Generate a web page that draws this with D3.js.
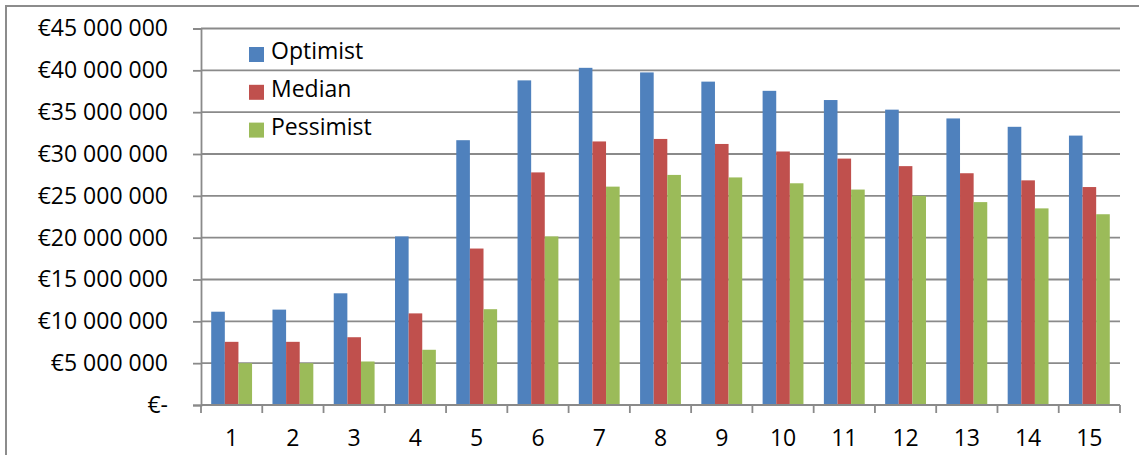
<!DOCTYPE html>
<html>
<head>
<meta charset="utf-8">
<script src="https://cdn.jsdelivr.net/npm/d3@7/dist/d3.min.js"></script>
<style>
  html, body { margin: 0; padding: 0; background: #fff; }
  svg { display: block; font-family: "Open Sans", "DejaVu Sans", sans-serif; }
</style>
</head>
<body>
<svg id="chart" width="1139" height="455"></svg>
<script>
// Yearly revenue scenarios (EUR)
const years = ["1","2","3","4","5","6","7","8","9","10","11","12","13","14","15"];
const seriesNames = ["Optimist", "Median", "Pessimist"];
const optimist  = [11150000, 11400000, 13350000, 20150000, 31650000, 38800000, 40300000, 39750000, 38650000, 37550000, 36450000, 35300000, 34250000, 33250000, 32200000];
const median    = [7550000, 7550000, 8100000, 10950000, 18700000, 27800000, 31500000, 31800000, 31200000, 30300000, 29450000, 28550000, 27700000, 26850000, 26050000];
const pessimist = [5000000, 5000000, 5200000, 6600000, 11450000, 20150000, 26100000, 27500000, 27200000, 26500000, 25750000, 25000000, 24250000, 23500000, 22800000];
const yTicks = [0, 5000000, 10000000, 15000000, 20000000, 25000000, 30000000, 35000000, 40000000, 45000000];
const colors = ["#4f81bd", "#c0504d", "#9bbb59"];

const seriesValues = [optimist, median, pessimist];
const svg = d3.select("#chart");
const fontSize = 23;

const plot = { left: 201, right: 1120, top: 28.5, bottom: 405 };

const x = d3.scaleBand().domain(years).range([plot.left, plot.right]).padding(0);
const bw = x.bandwidth();
const gap = bw * 0.75 / 4.5;
const xs = d3.scaleBand().domain(seriesNames).range([gap, bw - gap]).padding(0);
const y = d3.scaleLinear().domain([0, 45000000]).range([plot.bottom, plot.top]);

// outer frame (left and top edges)
svg.append("path")
  .attr("d", "M6,455 V6 H1139")
  .attr("fill", "none")
  .attr("stroke", "#8c8c8c")
  .attr("stroke-width", 2);

// horizontal gridlines
svg.append("g")
  .selectAll("line")
  .data(yTicks.slice(1))
  .join("line")
  .attr("x1", plot.left).attr("x2", plot.right)
  .attr("y1", d => y(d)).attr("y2", d => y(d))
  .attr("stroke", "#8a8a8a")
  .attr("stroke-width", 1.8);

// bars
const fmtEuro = v => v === 0 ? "€-" : "€" + d3.format(",")(v).replace(/,/g, " ");

seriesNames.forEach((name, si) => {
  svg.append("g")
    .selectAll("rect")
    .data(seriesValues[si].map((v, i) => ({ year: years[i], v })))
    .join("rect")
    .attr("x", d => x(d.year) + xs(name))
    .attr("width", xs.bandwidth())
    .attr("y", d => y(d.v))
    .attr("height", d => y(0) - y(d.v))
    .attr("fill", colors[si]);
});

// y axis
const yAxis = d3.axisLeft(y)
  .tickValues(yTicks)
  .tickSize(8)
  .tickPadding(25)
  .tickFormat(fmtEuro);
const gy = svg.append("g").attr("transform", `translate(${plot.left},0)`).call(yAxis);
gy.select(".domain").attr("stroke", "#8a8a8a").attr("stroke-width", 1.8);
gy.selectAll(".tick line").attr("stroke", "#8a8a8a").attr("stroke-width", 1.8);
gy.selectAll(".tick text")
  .attr("font-size", fontSize)
  .attr("fill", "#000")
  .attr("font-family", "'Open Sans', sans-serif");

// x axis: tick marks at category boundaries, labels at centres
const gx = svg.append("g");
gx.append("line")
  .attr("x1", plot.left).attr("x2", plot.right)
  .attr("y1", plot.bottom).attr("y2", plot.bottom)
  .attr("stroke", "#8a8a8a").attr("stroke-width", 1.8);
const bounds = years.map(c => x(c)).concat([x(years[years.length - 1]) + bw]);
gx.selectAll("line.tick")
  .data(bounds)
  .join("line")
  .attr("class", "tick")
  .attr("x1", d => d).attr("x2", d => d)
  .attr("y1", plot.bottom).attr("y2", plot.bottom + 8)
  .attr("stroke", "#8a8a8a").attr("stroke-width", 1.8);
gx.selectAll("text")
  .data(years)
  .join("text")
  .attr("x", d => x(d) + bw / 2)
  .attr("y", 440)
  .attr("text-anchor", "middle")
  .attr("dominant-baseline", "middle")
  .attr("font-size", fontSize)
  .attr("fill", "#000")
  .text(d => d);

// legend
const legend = svg.append("g").attr("transform", "translate(249,47)");
seriesNames.forEach((name, i) => {
  const g = legend.append("g").attr("transform", `translate(0,${i * 37.8})`);
  g.append("rect").attr("width", 15).attr("height", 15).attr("fill", colors[i]);
  g.append("text")
    .attr("x", 22).attr("y", 6)
    .attr("dominant-baseline", "middle")
    .attr("font-size", fontSize)
    .attr("fill", "#000")
    .text(name);
});
</script>
</body>
</html>
